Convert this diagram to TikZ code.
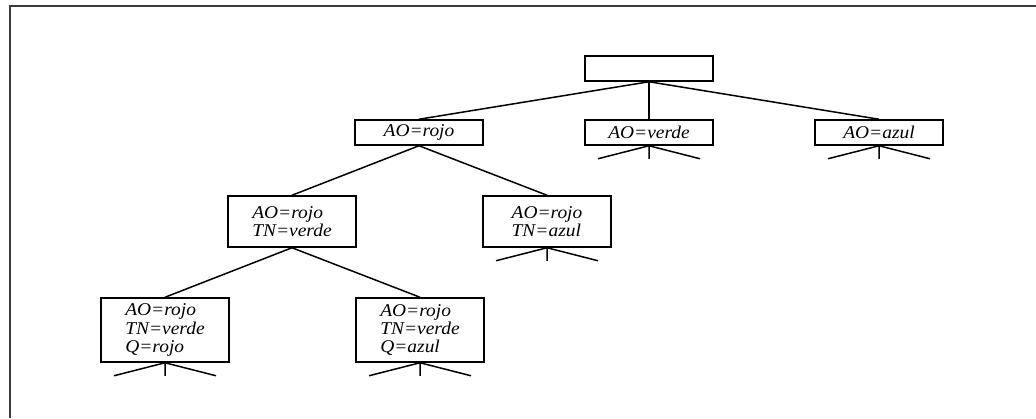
\documentclass[tikz,border=0pt]{standalone}
\usepackage{fontspec}
\setmainfont{Liberation Serif}[FakeStretch=1.08]
\usetikzlibrary{positioning}
\definecolor{FrameGray}{HTML}{3A3A3A}

\tikzset{
  state/.style={draw,line width=1.5pt,minimum width=128pt,inner sep=0pt,
    align=left,font=\fontsize{18}{18.3}\selectfont\itshape},
  branch/.style={line width=1.5pt},
}

\begin{document}
\begin{tikzpicture}[x=1pt,y=-1pt]
  \useasboundingbox (0,0) rectangle (1036,418);
  % frame
  \draw[line width=2pt,color=FrameGray] (9.5,418) -- (9.5,5.5) -- (1036,5.5);

  % search tree
  \node[state,minimum height=25pt] (start) at (649,68.5) {};
  \node[state,minimum height=25pt] (ar) at (419,132.5) {AO=rojo};
  \node[state,minimum height=25pt] (av) at (649,132.5) {AO=verde};
  \node[state,minimum height=25pt] (aa) at (879,132.5) {AO=azul};
  \node[state,minimum height=51pt] (tv) at (292,221.5) {AO=rojo\\TN=verde};
  \node[state,minimum height=51pt] (ta) at (547,221.5) {AO=rojo\\TN=azul};
  \node[state,minimum height=64pt] (qr) at (165,330) {AO=rojo\\TN=verde\\Q=rojo};
  \node[state,minimum height=64pt] (qa) at (420,330) {AO=rojo\\TN=verde\\Q=azul};

  \draw[branch] (start.south) -- (ar.north);
  \draw[branch] (start.south) -- (av.north);
  \draw[branch] (start.south) -- (aa.north);
  \draw[branch] (ar.south) -- (tv.north);
  \draw[branch] (ar.south) -- (ta.north);
  \draw[branch] (tv.south) -- (qr.north);
  \draw[branch] (tv.south) -- (qa.north);

  % unexpanded subtrees
  \foreach \leaf in {av,aa,ta,qr,qa}
    \draw[branch] (\leaf.south) -- ++(-51,13)
      (\leaf.south) -- ++(0,13) (\leaf.south) -- ++(51,13);
\end{tikzpicture}
\end{document}
